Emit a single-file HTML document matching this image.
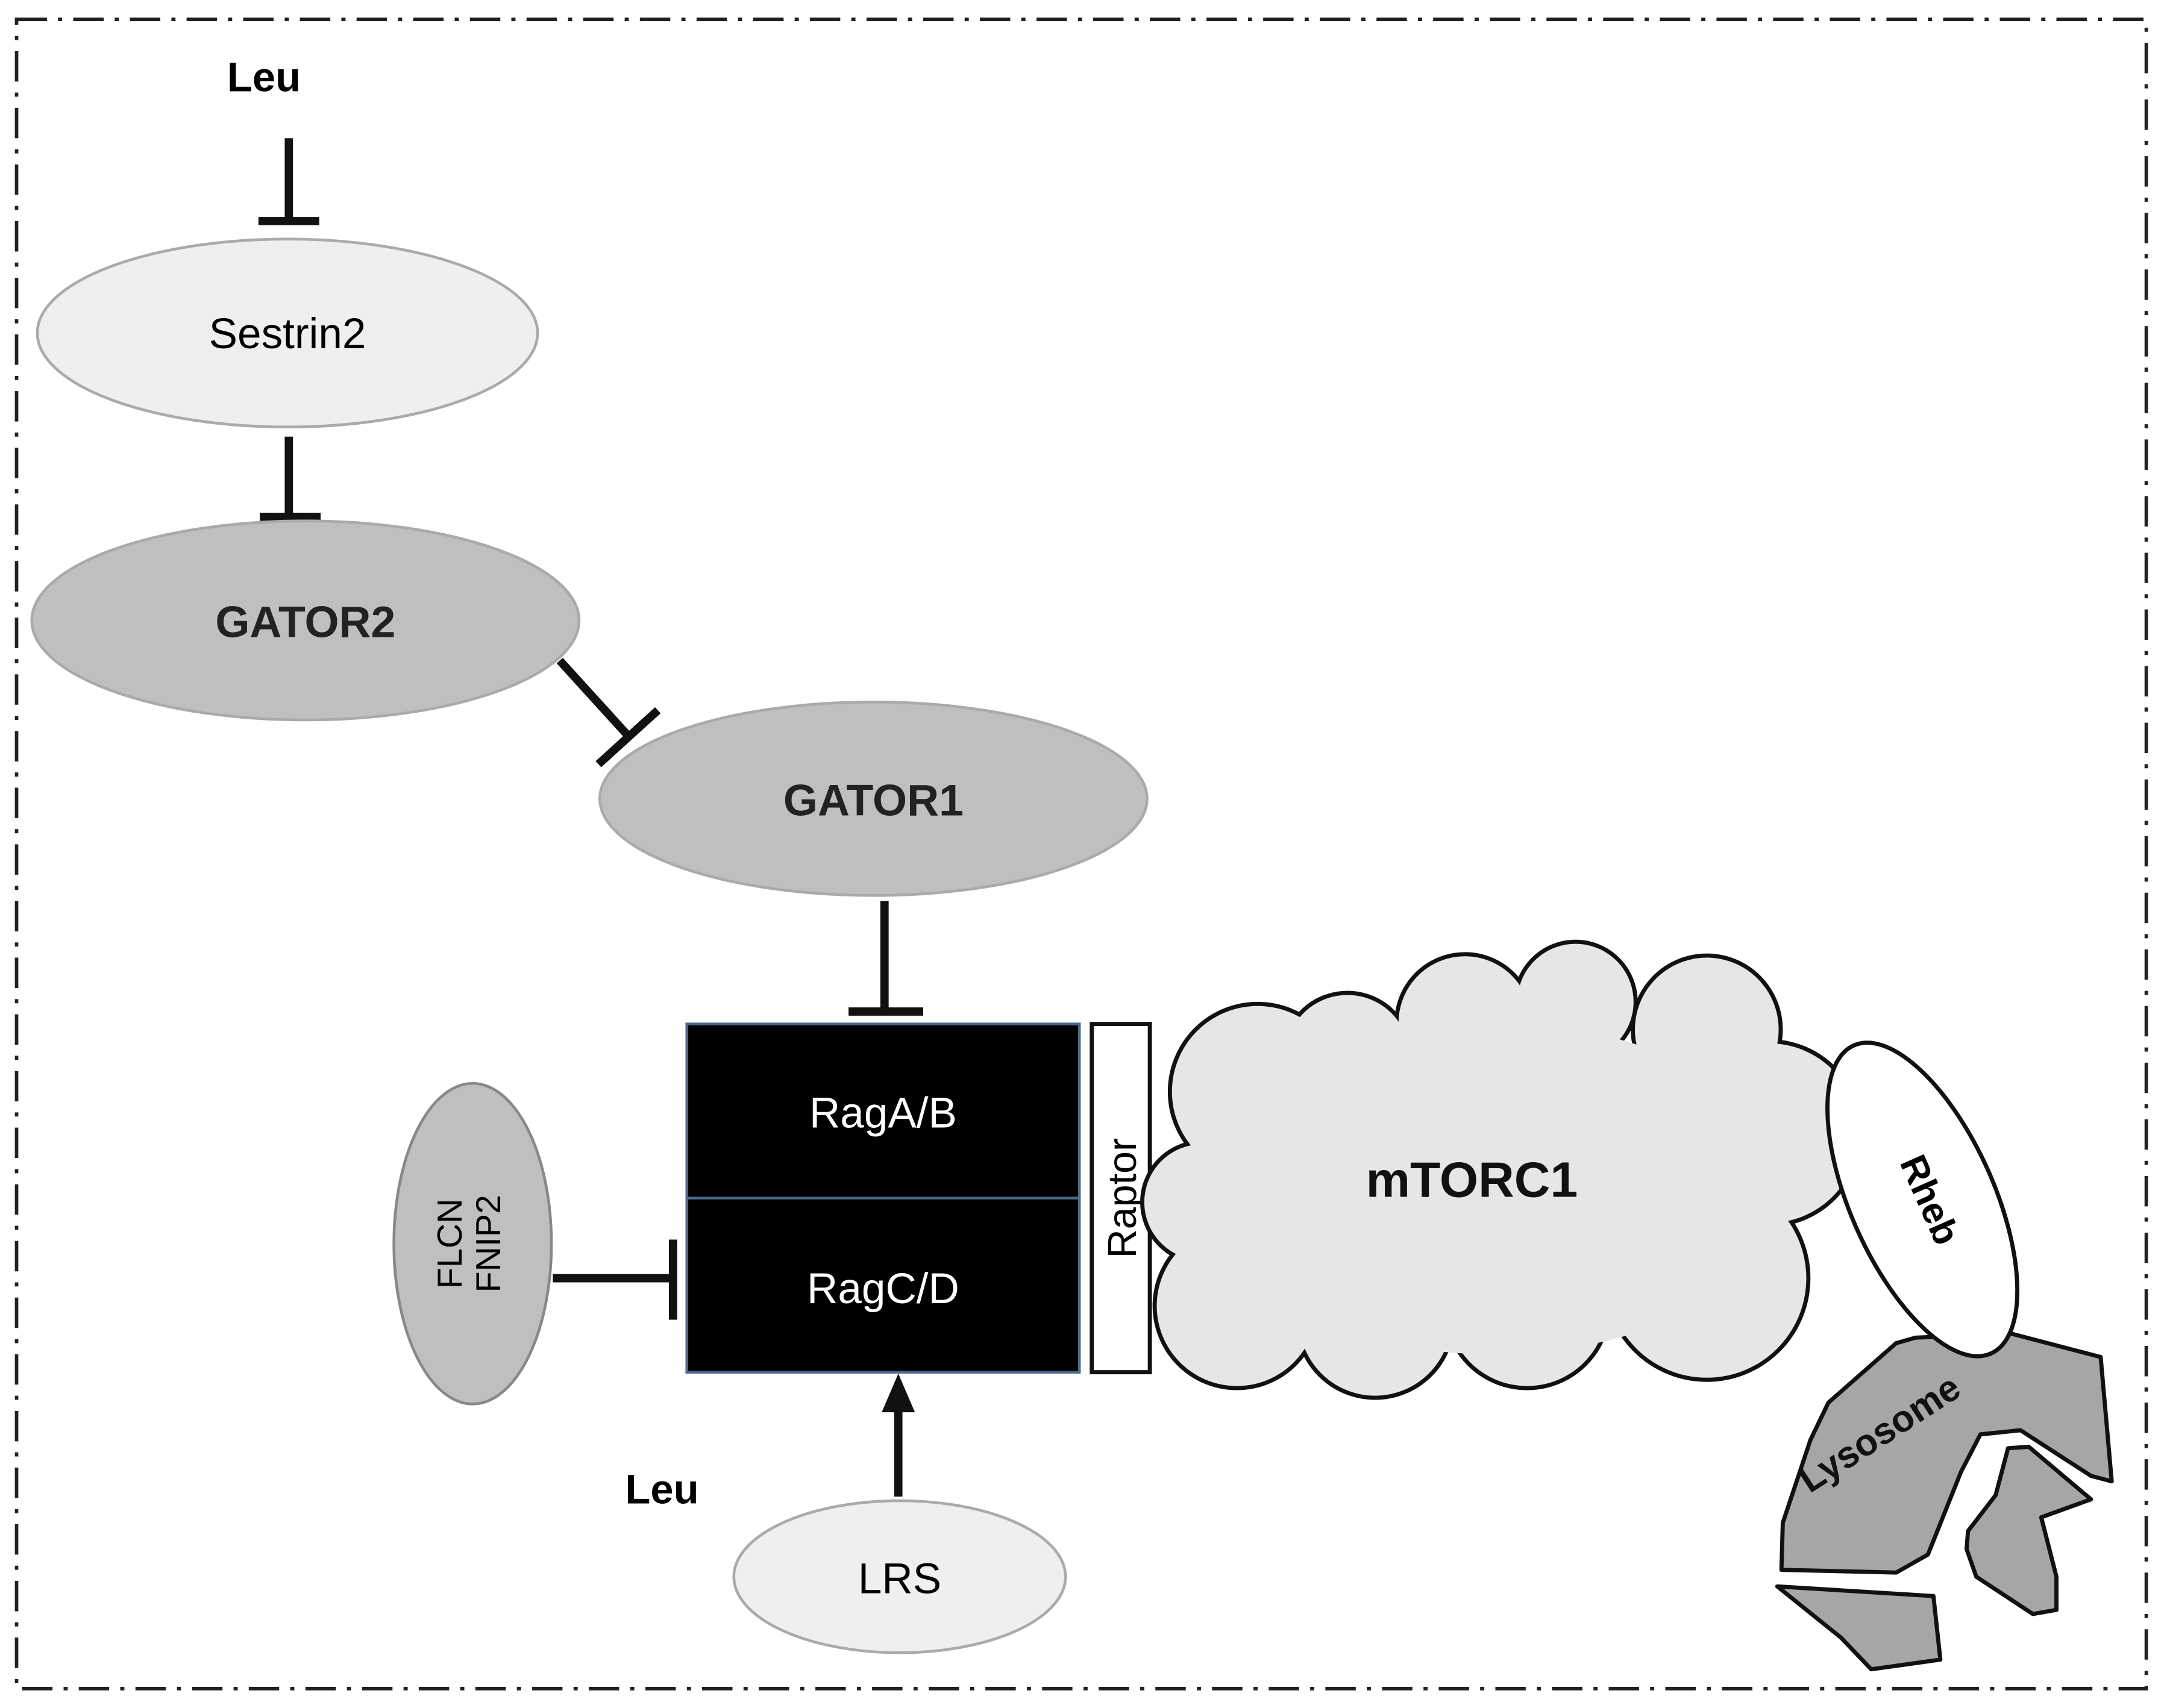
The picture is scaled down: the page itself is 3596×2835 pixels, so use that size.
<!DOCTYPE html>
<html><head><meta charset="utf-8"><style>html,body{margin:0;padding:0;background:#fff}svg{display:block}</style></head>
<body>
<svg width="3596" height="2835" viewBox="0 0 1568 1236" preserveAspectRatio="none" xmlns="http://www.w3.org/2000/svg" font-family="'Liberation Sans', sans-serif">
<rect x="12" y="14" width="1541" height="1208" fill="none" stroke="#222" stroke-width="2.5" stroke-dasharray="22,8,3,8"/>
<!-- Leu top -->
<text x="191" y="66" font-size="30" font-weight="bold" text-anchor="middle">Leu</text>
<g stroke="#111" stroke-width="6">
<line x1="209" y1="100" x2="209" y2="160"/><line x1="187" y1="160" x2="231" y2="160"/>
<line x1="209" y1="316" x2="209" y2="374"/><line x1="188" y1="374" x2="232" y2="374"/>
<line x1="405" y1="478" x2="455" y2="533"/><line x1="433" y1="553" x2="476" y2="514"/>
<line x1="640" y1="652" x2="640" y2="732"/><line x1="614" y1="732" x2="668" y2="732"/>
<line x1="400" y1="925" x2="487" y2="925"/><line x1="487" y1="897" x2="487" y2="955"/>
<line x1="650" y1="1083" x2="650" y2="1020"/>
</g>
<polygon points="638,1022 662,1022 650,994" fill="#111"/>
<ellipse cx="208" cy="241" rx="181" ry="68" fill="#efefef" stroke="#aaa" stroke-width="2"/>
<text x="208" y="252" font-size="31" text-anchor="middle">Sestrin2</text>
<ellipse cx="221" cy="449" rx="198" ry="72" fill="#bfbfbf" stroke="#aaa" stroke-width="2"/>
<text x="221" y="461" font-size="32" font-weight="bold" text-anchor="middle" fill="#222">GATOR2</text>
<ellipse cx="632" cy="578" rx="198" ry="70" fill="#bfbfbf" stroke="#aaa" stroke-width="2"/>
<text x="632" y="590" font-size="32" font-weight="bold" text-anchor="middle" fill="#222">GATOR1</text>
<rect x="497" y="741" width="284" height="252" fill="#000" stroke="#4a6a8a" stroke-width="2"/>
<line x1="497" y1="867" x2="781" y2="867" stroke="#4a6a8a" stroke-width="2"/>
<text x="639" y="816" font-size="31" fill="#fff" text-anchor="middle">RagA/B</text>
<text x="639" y="943" font-size="31" fill="#fff" text-anchor="middle">RagC/D</text>
<rect x="790" y="741" width="42" height="252" fill="#fff" stroke="#111" stroke-width="3"/>
<text transform="translate(822,867) rotate(-90)" font-size="29" text-anchor="middle">Raptor</text>
<ellipse cx="342" cy="900" rx="57" ry="116" fill="#bfbfbf" stroke="#888" stroke-width="2"/>
<text transform="translate(334,900) rotate(-90)" font-size="25" text-anchor="middle">FLCN</text>
<text transform="translate(362,900) rotate(-90)" font-size="25" text-anchor="middle">FNIP2</text>
<text x="479" y="1088" font-size="30" font-weight="bold" text-anchor="middle">Leu</text>
<ellipse cx="651" cy="1141" rx="120" ry="55" fill="#efefef" stroke="#aaa" stroke-width="2"/>
<text x="651" y="1153" font-size="31" text-anchor="middle">LRS</text>
<!-- cloud -->
<g stroke="#111" stroke-width="6" fill="#e6e6e6">
<circle cx="910" cy="790" r="62"/><circle cx="870" cy="870" r="42"/><circle cx="895" cy="945" r="58"/>
<circle cx="995" cy="955" r="55"/><circle cx="1105" cy="945" r="58"/><circle cx="1235" cy="925" r="72"/>
<circle cx="1280" cy="820" r="65"/><circle cx="1235" cy="745" r="52"/><circle cx="1140" cy="725" r="42"/>
<circle cx="1060" cy="740" r="48"/><circle cx="975" cy="765" r="45"/>
</g>
<g fill="#e6e6e6">
<circle cx="910" cy="790" r="62"/><circle cx="870" cy="870" r="42"/><circle cx="895" cy="945" r="58"/>
<circle cx="995" cy="955" r="55"/><circle cx="1105" cy="945" r="58"/><circle cx="1235" cy="925" r="72"/>
<circle cx="1280" cy="820" r="65"/><circle cx="1235" cy="745" r="52"/><circle cx="1140" cy="725" r="42"/>
<circle cx="1060" cy="740" r="48"/><circle cx="975" cy="765" r="45"/>
<ellipse cx="1080" cy="860" rx="210" ry="120"/>
</g>
<text x="1065" y="866" font-size="36" font-weight="bold" text-anchor="middle" fill="#111">mTORC1</text>
<!-- lysosome -->
<g fill="#a6a6a6" stroke="#111" stroke-width="3" stroke-linejoin="round">
<polygon points="1289,1136 1290,1102 1310,1042 1323,1015 1372,972 1386,968 1455,965 1520,982 1528,1072 1513,1068 1462,1035 1433,1038 1419,1065 1395,1125 1372,1138"/>
<polygon points="1453,1048 1468,1047 1513,1085 1477,1098 1488,1141 1488,1165 1471,1168 1430,1141 1423,1121 1424,1108 1444,1082"/>
<polygon points="1286,1148 1399,1155 1404,1201 1354,1208 1332,1185"/>
</g>
<ellipse cx="1391" cy="868" rx="52" ry="122" transform="rotate(-24 1391 868)" fill="#fff" stroke="#111" stroke-width="3"/>
<text transform="translate(1388,872) rotate(66)" font-size="27" font-weight="bold" text-anchor="middle">Rheb</text>
<text transform="translate(1365,1045) rotate(-33)" font-size="27" font-weight="bold" text-anchor="middle" fill="#111">Lysosome</text>
</svg>
</body></html>
